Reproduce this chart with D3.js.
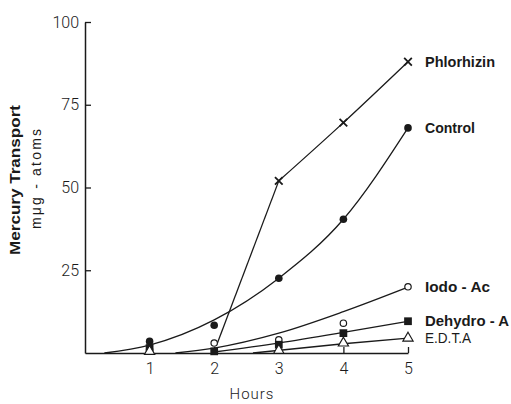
<!DOCTYPE html>
<html>
<head>
<meta charset="utf-8">
<script src="https://cdn.jsdelivr.net/npm/d3@7"></script>
<style>
  body { margin: 0; background: #fff; }
  svg { display: block; }
</style>
</head>
<body>
<div id="chart"></div>
<script>
// ticks
const hours = [1, 2, 3, 4, 5];
const yTicks = [25, 50, 75, 100];

// measured points (hour, value)
const controlHours = [1, 2, 3, 4, 5];
const controlVals = [3.5, 8.4, 22.6, 40.4, 68];
const phlorHours = [3, 4, 5];
const phlorVals = [52, 69.6, 88];
const iodoHours = [1, 2, 3, 4, 5];
const iodoVals = [1, 3, 4, 9, 20];
const dehydroHours = [1, 2, 3, 4, 5];
const dehydroVals = [1.5, 0.5, 2.5, 6, 9.6];
const edtaHours = [1, 3, 4, 5];
const edtaVals = [0.5, 0.8, 3, 4.5];

// hand-fitted curves (hour, value)
const controlFitH = [0.3, 1, 2, 3, 4, 5];
const controlFitV = [0, 2.4, 10, 22.6, 40.4, 68];
const phlorFitH = [2.05, 3, 4, 5];
const phlorFitV = [3, 52, 69.6, 88];
const iodoFitH = [1.4, 2, 3, 4, 5];
const iodoFitV = [0, 1.5, 6, 12.5, 19.9];
const dehydroFitH = [2, 3, 4, 5];
const dehydroFitV = [0.3, 3, 6.2, 9.6];
const edtaFitH = [2.6, 4, 5];
const edtaFitV = [0, 2.8, 4.5];

const seriesNames = ["Phlorhizin", "Control", "Iodo - Ac", "Dehydro - A", "E.D.T.A"];
const seriesLast = [88, 68, 19.9, 9.6, 4.5];

const width = 511, height = 404;
const ink = "#1a1a1a";

const svg = d3.select("#chart").append("svg")
    .attr("width", width).attr("height", height);

const x = d3.scaleLinear().domain([0, 5]).range([85, 408]);
const y = d3.scaleLinear().domain([0, 100]).range([353, 22]);

const zip = (a, b) => a.map((h, i) => [h, b[i]]);

// axes
const xAxis = svg.append("g")
    .attr("transform", `translate(0,${y(0)})`)
    .call(d3.axisBottom(x).tickValues(hours).tickFormat(d3.format("d"))
        .tickSizeInner(-6).tickSizeOuter(0).tickPadding(10));
const yAxis = svg.append("g")
    .attr("transform", `translate(${x(0)},0)`)
    .call(d3.axisLeft(y).tickValues(yTicks).tickFormat(d3.format("d"))
        .tickSizeInner(-6).tickSizeOuter(0).tickPadding(6));

[xAxis, yAxis].forEach(g => {
  g.select(".domain").attr("stroke", ink).attr("stroke-width", 1.5);
  g.selectAll(".tick line").attr("stroke", ink).attr("stroke-width", 1.3);
  g.selectAll(".tick text")
      .attr("fill", ink)
      .style("font-family", "Roboto, 'Liberation Sans', sans-serif")
      .style("font-weight", 300)
      .style("font-size", "16px");
});

// axis titles
svg.append("text")
    .attr("transform", `translate(20,${180}) rotate(-90)`)
    .attr("text-anchor", "middle")
    .attr("fill", ink)
    .attr("textLength", 150).attr("lengthAdjust", "spacingAndGlyphs")
    .style("font-family", "'Liberation Sans', sans-serif")
    .style("font-weight", "bold")
    .style("font-size", "15px")
    .text("Mercury Transport");

svg.append("text")
    .attr("transform", `translate(41,${179}) rotate(-90)`)
    .attr("text-anchor", "middle")
    .attr("fill", ink)
    .attr("textLength", 100).attr("lengthAdjust", "spacing")
    .style("font-family", "'Liberation Sans', sans-serif")
    .style("font-size", "14px")
    .text("mμg - atoms");

svg.append("text")
    .attr("x", 252).attr("y", 399)
    .attr("text-anchor", "middle")
    .attr("fill", ink)
    .style("font-family", "Roboto, 'Liberation Sans', sans-serif")
    .style("font-weight", 300)
    .style("font-size", "15px")
    .style("letter-spacing", "1px")
    .text("Hours");

// fitted lines
const curve = d3.line().x(d => x(d[0])).y(d => y(d[1])).curve(d3.curveMonotoneX);
const straight = d3.line().x(d => x(d[0])).y(d => y(d[1]));

const fits = [
  { pts: zip(controlFitH, controlFitV), gen: curve },
  { pts: zip(phlorFitH, phlorFitV).slice(0, 2), gen: straight },
  { pts: zip(phlorFitH, phlorFitV).slice(1), gen: curve },
  { pts: zip(iodoFitH, iodoFitV), gen: curve },
  { pts: zip(dehydroFitH, dehydroFitV), gen: curve },
  { pts: zip(edtaFitH, edtaFitV), gen: curve }
];
svg.append("g").selectAll("path").data(fits).join("path")
    .attr("d", d => d.gen(d.pts))
    .attr("fill", "none")
    .attr("stroke", ink)
    .attr("stroke-width", 1.3);

// markers
const marks = svg.append("g");
marks.selectAll(".ctl").data(zip(controlHours, controlVals)).join("circle")
    .attr("cx", d => x(d[0])).attr("cy", d => y(d[1])).attr("r", 3.8)
    .attr("fill", ink);
marks.selectAll(".iodo").data(zip(iodoHours, iodoVals)).join("circle")
    .attr("class", "iodo")
    .attr("cx", d => x(d[0])).attr("cy", d => y(d[1])).attr("r", 3.2)
    .attr("fill", "#fff").attr("stroke", ink).attr("stroke-width", 1.2);
marks.selectAll(".dh").data(zip(dehydroHours, dehydroVals)).join("path")
    .attr("class", "dh")
    .attr("d", d3.symbol(d3.symbolSquare, 60))
    .attr("transform", d => `translate(${x(d[0])},${y(d[1])})`)
    .attr("fill", ink);
marks.selectAll(".ed").data(zip(edtaHours, edtaVals)).join("path")
    .attr("class", "ed")
    .attr("d", d3.symbol(d3.symbolTriangle, 45))
    .attr("transform", d => `translate(${x(d[0])},${y(d[1])})`)
    .attr("fill", "#fff").attr("stroke", ink).attr("stroke-width", 1.2);
marks.selectAll(".ph").data(zip(phlorHours, phlorVals)).join("path")
    .attr("class", "ph")
    .attr("d", d3.symbol(d3.symbolX, 40))
    .attr("transform", d => `translate(${x(d[0])},${y(d[1])})`)
    .attr("fill", "none").attr("stroke", ink).attr("stroke-width", 1.8);

// series labels, squeezed to the condensed widths of the original lettering
const labelWidths = [70, 50, 65, 84, 46];
svg.append("g").selectAll("text").data(seriesNames).join("text")
    .attr("x", x(5) + 17)
    .attr("y", (d, i) => y(seriesLast[i]) + 5)
    .attr("fill", ink)
    .attr("textLength", (d, i) => labelWidths[i])
    .attr("lengthAdjust", "spacingAndGlyphs")
    .style("font-family", "'Liberation Sans', sans-serif")
    .style("font-weight", (d, i) => i === 4 ? "normal" : "bold")
    .style("font-size", (d, i) => i === 4 ? "14px" : "15px")
    .text(d => d);
</script>
</body>
</html>
